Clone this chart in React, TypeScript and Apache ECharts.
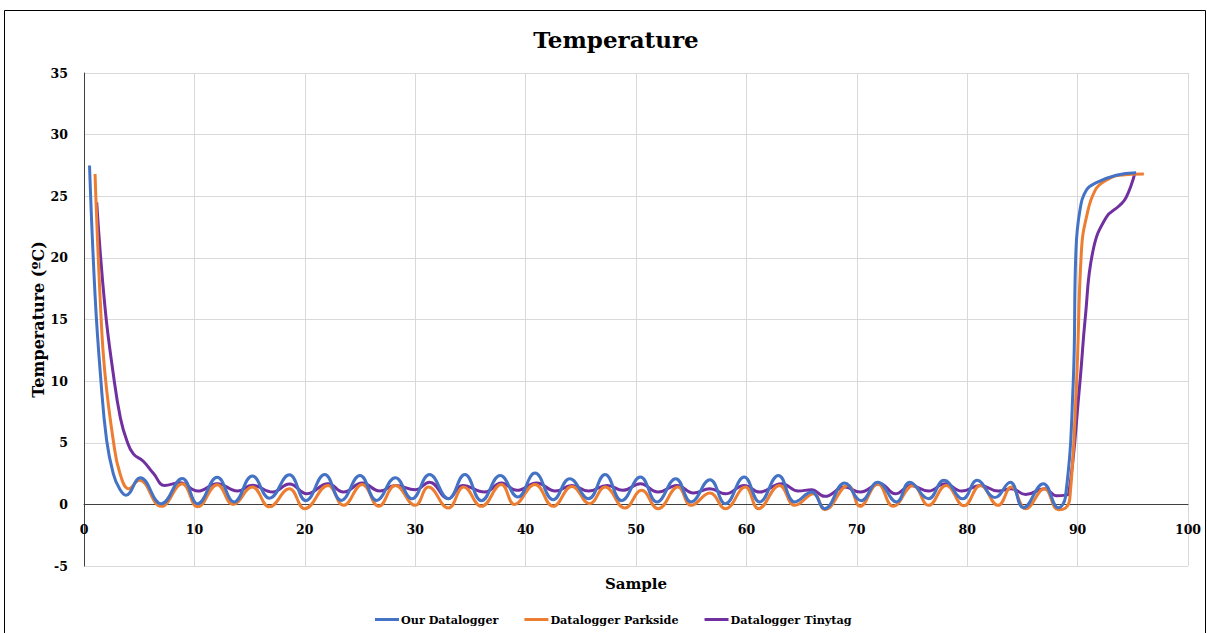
import React, { useEffect, useRef } from "react";
import * as echarts from "echarts";

const seriesNames = ["Our Datalogger", "Datalogger Parkside", "Datalogger Tinytag"];
const seriesColors = ["#4472C4", "#ED7D31", "#7030A0"];

const ourDatalogger: [number, number][] = [
  [0.5, 27.5], [1.0, 17], [1.5, 10.4], [2.05, 5.2], [2.65, 2.5], [3.2, 1.3], [3.8, 0.75],
  [5.1, 2.16], [7.0, 0.05], [8.9, 2.1], [10.3, 0.05], [12.07, 2.2], [13.6, 0.2], [15.25, 2.3],
  [16.8, 0.5], [18.6, 2.4], [20.1, 0.3], [21.8, 2.43], [23.3, 0.32], [25.0, 2.35], [26.5, 0.32],
  [28.2, 2.16], [29.7, 0.46], [31.3, 2.43], [33.0, 0.46], [34.5, 2.43], [36.0, 0.3], [37.7, 2.35],
  [39.3, 0.6], [40.85, 2.54], [42.5, 0.38], [44.0, 2.08], [45.7, 0.46], [47.2, 2.43], [48.7, 0.3],
  [50.4, 2.22], [51.9, 0.2], [53.6, 2.08], [55.0, 0.2], [56.7, 2.0], [58.1, 0.05], [59.8, 2.22],
  [61.2, 0.2], [62.9, 2.35], [64.4, 0.2], [65.9, 1.0], [67.1, -0.35], [68.9, 1.73], [70.4, 0.3],
  [71.9, 1.8], [73.6, 0.2], [74.8, 1.8], [76.5, 0.46], [77.9, 1.95], [79.6, 0.45], [80.9, 1.95],
  [82.5, 0.55], [83.9, 1.8], [85.1, -0.27], [86.9, 1.68], [88.25, -0.27], [88.9, 0.6],
  [89.6, 9.8], [89.85, 20.6], [90.2, 23.8], [90.8, 25.5], [91.7, 26.1], [93.5, 26.7], [95.3, 26.9],
];

const dataloggerParkside: [number, number][] = [
  [1.0, 26.8], [1.5, 16], [1.9, 10.6], [2.65, 5.2], [3.26, 2.5], [4.07, 1.27], [5.0, 1.95],
  [7.0, -0.16], [8.9, 1.68], [10.3, -0.2], [12.07, 1.6], [13.5, 0], [15.25, 1.4], [16.8, -0.2],
  [18.6, 1.27], [20.0, -0.35], [22.1, 1.54], [23.5, -0.08], [25.2, 1.62], [26.7, -0.16],
  [28.2, 1.54], [30.0, -0.08], [31.2, 1.4], [33.0, -0.3], [34.4, 1.4], [36.0, -0.16], [37.8, 1.62],
  [39.0, 0], [40.85, 1.62], [42.5, -0.16], [44.2, 1.46], [45.8, 0.05], [47.2, 1.4], [49.0, -0.3],
  [50.5, 1.14], [52.0, -0.35], [53.8, 1.4], [55.0, -0.08], [56.7, 0.92], [58.1, -0.35],
  [59.9, 1.4], [61.1, -0.35], [63.0, 1.54], [64.4, -0.08], [66.1, 0.86], [67.1, -0.43],
  [69.2, 1.54], [70.3, -0.16], [71.9, 1.68], [73.3, -0.16], [75.1, 1.54], [76.5, -0.08],
  [78.1, 1.54], [79.7, -0.12], [81.2, 1.54], [82.8, -0.08], [84.0, 1.4], [85.3, -0.35],
  [87.0, 1.27], [88.25, -0.43], [88.9, -0.3], [89.3, 0.5], [89.9, 9.8], [90.35, 20.6],
  [90.8, 23.3], [91.6, 25.5], [92.6, 26.3], [93.8, 26.7], [96.0, 26.8],
];

const dataloggerTinytag: [number, number][] = [
  [1.15, 24.5], [1.9, 16], [2.65, 10.6], [3.3, 7], [3.87, 5.2], [4.47, 4.1], [5.37, 3.5],
  [6.3, 2.5], [7.3, 1.54], [8.7, 1.75], [10.3, 1.08], [12.07, 1.68], [13.9, 1.08], [15.25, 1.55],
  [17.1, 1.0], [18.6, 1.65], [20.2, 0.86], [22.1, 1.68], [23.5, 1.0], [25.2, 1.73], [26.8, 1.08],
  [28.2, 1.54], [30.0, 1.19], [31.3, 1.8], [33.0, 0.46], [34.3, 1.54], [36.3, 1.0], [37.8, 1.73],
  [39.2, 1.14], [41.0, 1.73], [42.7, 1.08], [44.2, 1.54], [45.7, 1.08], [47.4, 1.54], [48.8, 1.14],
  [50.4, 1.68], [52.0, 1.0], [53.7, 1.54], [55.2, 0.92], [56.7, 1.27], [58.1, 0.86], [59.8, 1.54],
  [61.2, 1.0], [63.2, 1.68], [64.7, 1.08], [65.9, 1.19], [67.1, 0.65], [68.9, 1.4], [70.3, 1.0],
  [72.1, 1.68], [73.5, 0.86], [74.9, 1.54], [76.5, 1.08], [78.0, 1.68], [79.5, 1.08], [81.2, 1.54],
  [82.8, 1.08], [84.0, 1.27], [85.3, 0.8], [87.0, 1.27], [88.1, 0.7], [88.9, 0.75], [89.2, 0.86],
  [90.2, 9.8], [90.7, 15.2], [91.4, 20.6], [92.6, 23.3], [93.8, 24.25], [94.4, 24.9], [95.2, 26.9],
];

const seriesData = [ourDatalogger, dataloggerParkside, dataloggerTinytag];

const FONT = "DejaVu Serif";

export default function App() {
  const ref = useRef<HTMLDivElement>(null);
  useEffect(() => {
    document.body.style.margin = "0";
    const chart = echarts.init(ref.current!, null, { renderer: "svg" });
    chart.setOption({
      animation: false,
      backgroundColor: "#ffffff",
      title: {
        text: "Temperature",
        left: 611,
        textAlign: "center",
        top: 23,
        textStyle: { fontFamily: FONT, fontWeight: "bold", fontSize: 23, color: "#000" },
      },
      graphic: [
        {
          type: "rect",
          shape: { x: 4.5, y: 10.5, width: 1201, height: 640 },
          style: { fill: "none", stroke: "#000", lineWidth: 1 },
          silent: true,
        },
      ],
      grid: { left: 84, right: 19, top: 73, bottom: 67, containLabel: false, outerBoundsMode: "none" },
      legend: {
        bottom: 3,
        left: 370,
        icon: "rect",
        itemWidth: 24,
        itemHeight: 3,
        itemGap: 26,
        textStyle: { fontFamily: FONT, fontWeight: "bold", fontSize: 11.2, color: "#000", padding: [0, 0, 0, -3] },
        data: seriesNames,
      },
      xAxis: {
        type: "value",
        min: 0,
        max: 100,
        interval: 10,
        name: "Sample",
        nameLocation: "middle",
        nameGap: 10,
        nameTextStyle: { fontFamily: FONT, fontWeight: "bold", fontSize: 15, color: "#000", verticalAlign: "top" },
        axisLine: { onZero: true, lineStyle: { color: "#404040", width: 1 } },
        axisTick: { show: false },
        axisLabel: { margin: -43, fontFamily: FONT, fontWeight: "bold", fontSize: 12.5, color: "#000" },
        splitLine: { show: true, lineStyle: { color: "#d9d9d9", width: 1 } },
      },
      yAxis: {
        type: "value",
        min: -5,
        max: 35,
        interval: 5,
        name: "Temperature (ºC)",
        nameLocation: "middle",
        nameGap: 38,
        nameMoveOverlap: false,
        nameTextStyle: { fontFamily: FONT, fontWeight: "bold", fontSize: 16, color: "#000" },
        axisLine: { show: true, lineStyle: { color: "#404040", width: 1 } },
        axisTick: { show: false },
        axisLabel: { margin: 16, fontFamily: FONT, fontWeight: "bold", fontSize: 12.5, color: "#000" },
        splitLine: { show: true, lineStyle: { color: "#d9d9d9", width: 1 } },
      },
      series: seriesNames.map((name, i) => ({
        name,
        type: "line",
        data: seriesData[i],
        smooth: 0.45,
        symbol: "none",
        z: 3 - i,
        itemStyle: { color: seriesColors[i] },
        lineStyle: { color: seriesColors[i], width: 3 },
      })),
    });
    return () => chart.dispose();
  }, []);
  return <div ref={ref} style={{ position: "fixed", left: 0, top: 0, width: 1207, height: 633 }} />;
}
